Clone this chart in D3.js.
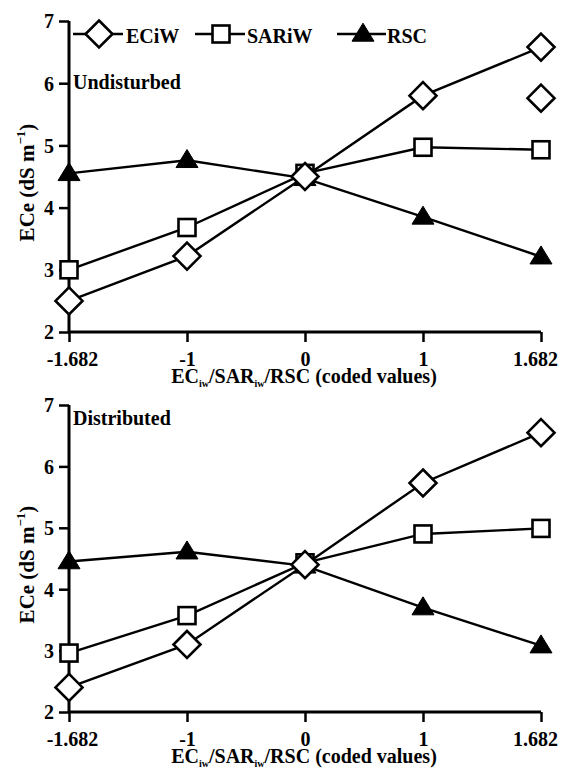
<!DOCTYPE html>
<html><head><meta charset="utf-8">
<script src="https://cdn.jsdelivr.net/npm/d3@7"></script>
<style>body{margin:0;background:#fff}svg{display:block}svg text{font-family:"Liberation Serif",Tinos,"Times New Roman","DejaVu Serif",serif !important;font-weight:bold;fill:#000}</style>
</head><body>
<script>
const categories = ["-1.682", "-1", "0", "1", "1.682"];
const yTicks = [2, 3, 4, 5, 6, 7];
const seriesNames = ["ECiW", "SARiW", "RSC"];
const undistECiW = [2.5, 3.22, 4.5, 5.8, 6.58];
const undistSARiW = [3.0, 3.68, 4.55, 4.97, 4.93];
const undistRSC = [4.55, 4.76, 4.47, 3.85, 3.21];
const undistExtraECiW = [{cat: "1.682", v: 5.76}];
const distECiW = [2.4, 3.1, 4.4, 5.73, 6.55];
const distSARiW = [2.96, 3.57, 4.43, 4.9, 4.99];
const distRSC = [4.45, 4.61, 4.38, 3.7, 3.08];
const panelLabels = ["Undisturbed", "Distributed"];

const FONT = '"Liberation Serif", Tinos, "Times New Roman", "DejaVu Serif", serif';
const W = 562, H = 773;
const svg = d3.select("body").append("svg").attr("width", W).attr("height", H)
  .attr("font-family", FONT);

const x = d3.scalePoint().domain(categories).range([69, 541]).padding(0);

function marker(g, type, cx, cy) {
  if (type === "ECiW") {
    const r = 13.5;
    g.append("path").attr("d", `M${cx},${cy-r}L${cx+r},${cy}L${cx},${cy+r}L${cx-r},${cy}Z`)
      .attr("fill", "#fff").attr("stroke", "#000").attr("stroke-width", 2.6);
  } else if (type === "SARiW") {
    const s = 17;
    g.append("rect").attr("x", cx - s/2).attr("y", cy - s/2).attr("width", s).attr("height", s)
      .attr("fill", "#fff").attr("stroke", "#000").attr("stroke-width", 2.6);
  } else {
    const w = 22, h = 18;
    g.append("path").attr("d", `M${cx},${cy-h*0.6}L${cx+w/2},${cy+h*0.4}L${cx-w/2},${cy+h*0.4}Z`)
      .attr("fill", "#000").attr("stroke", "#000").attr("stroke-width", 1);
  }
}

function panel(top, bottom, series, extra, label, labelY, legend) {
  const y = d3.scaleLinear().domain([2, 7]).range([bottom, top]);
  const g = svg.append("g");
  const yAxis = g.append("g").attr("transform", `translate(69,0)`)
    .call(d3.axisLeft(y).tickValues(yTicks).tickSize(10).tickPadding(5).tickFormat(d3.format("d")));
  yAxis.attr("font-family", FONT).attr("font-size", 20);
  yAxis.select(".domain").attr("d", `M0,${top}V${bottom}`).attr("stroke-width", 3);
  yAxis.selectAll(".tick line").attr("stroke-width", 2.5);
  yAxis.selectAll(".tick text").style("font-size", "20px").attr("dy", "0.34em");
  const xAxis = g.append("g").attr("transform", `translate(0,${bottom})`)
    .call(d3.axisBottom(x).tickSize(10).tickPadding(10));
  xAxis.attr("font-family", FONT).attr("font-size", 20);
  xAxis.select(".domain").attr("d", `M69,0H541`).attr("stroke-width", 3);
  xAxis.selectAll(".tick line").attr("stroke-width", 2.5);
  xAxis.selectAll(".tick text").style("font-size", "20px")
    .attr("dx", (d, i) => i === 0 ? 3 : (i === categories.length - 1 ? -6 : 0));

  const xt = g.append("text").attr("x", 304).attr("y", bottom + 51).attr("text-anchor", "middle").style("font-size", "20px");
  xt.append("tspan").text("EC");
  xt.append("tspan").text("iw").style("font-size", "10px").attr("dy", 4);
  xt.append("tspan").text("/SAR").attr("dy", -4);
  xt.append("tspan").text("iw").style("font-size", "10px").attr("dy", 4);
  xt.append("tspan").text("/RSC (coded values)").attr("dy", -4);

  const yt = g.append("text").attr("transform", `translate(34,${(top+bottom)/2+6}) rotate(-90)`).attr("text-anchor", "middle").style("font-size", "21px");
  yt.append("tspan").text("ECe (dS m");
  yt.append("tspan").text("\u2212" + "1").style("font-size", "13px").attr("dy", -9);
  yt.append("tspan").text(")").attr("dy", 9);

  g.append("text").attr("x", 73).attr("y", labelY).text(label).style("font-size", "20px");

  const line = d3.line().x((d, i) => x(categories[i])).y(d => y(d));
  series.forEach(([name, vals]) => {
    g.append("path").datum(vals).attr("d", line).attr("fill", "none").attr("stroke", "#000").attr("stroke-width", 2.4);
  });
  series.slice().reverse().forEach(([name, vals]) => {
    vals.forEach((v, i) => marker(g, name, x(categories[i]), y(v)));
  });
  extra.forEach(d => marker(g, "ECiW", x(d.cat), y(d.v)));

  if (legend) {
    const ly = top + 13;
    const items = [
      {name: "ECiW", x0: 73, x1: 123, mx: 99, tx: 126},
      {name: "SARiW", x0: 195, x1: 245, mx: 221, tx: 247},
      {name: "RSC", x0: 337, x1: 386, mx: 363, tx: 387}
    ];
    items.forEach(it => {
      g.append("line").attr("x1", it.x0).attr("x2", it.x1).attr("y1", ly).attr("y2", ly).attr("stroke", "#000").attr("stroke-width", 2.6);
      marker(g, it.name, it.mx, ly);
      g.append("text").attr("x", it.tx).attr("y", ly + 9).text(it.name).style("font-size", "20px");
    });
  }
}

panel(21, 332, [["ECiW", undistECiW], ["SARiW", undistSARiW], ["RSC", undistRSC]], undistExtraECiW, panelLabels[0], 89, true);
panel(405, 712, [["ECiW", distECiW], ["SARiW", distSARiW], ["RSC", distRSC]], [], panelLabels[1], 425, false);
</script>
</body></html>
